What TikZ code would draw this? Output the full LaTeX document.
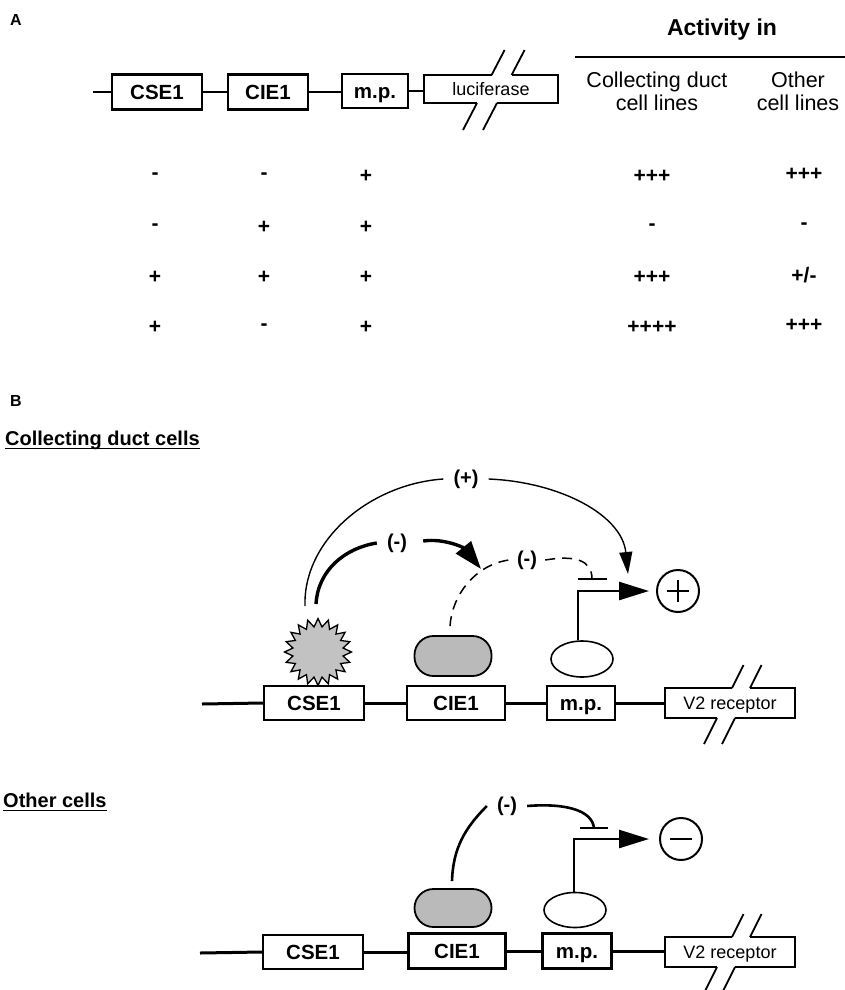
\documentclass[tikz,border=0pt]{standalone}
\usepackage{fontspec}
\setmainfont{Liberation Sans}
\usetikzlibrary{shapes.geometric,arrows.meta,calc}
\begin{document}
\begin{tikzpicture}[x=1pt,y=-1pt,
  genebox/.style={draw,line width=2.2pt,fill=white,inner sep=0pt,minimum height=35pt,text height=14.5pt,text depth=0pt,font=\fontsize{20.5}{22}\selectfont\bfseries},
  brk/.style={inner sep=0pt,text height=13pt,text depth=0pt,font=\fontsize{18}{20}\selectfont},
  gline/.style={line width=2.6pt},
  outl/.style={line width=2.2pt},
  slash/.style={line width=1.8pt},
  sign/.style={font=\fontsize{21}{22}\selectfont\bfseries,inner sep=0pt},
  head/.style={font=\fontsize{21.5}{23}\selectfont,align=center,inner sep=0pt},
  lbl/.style={font=\fontsize{20}{22}\selectfont\bfseries,inner sep=10pt},
  title/.style={font=\fontsize{20}{22}\selectfont\bfseries,inner sep=0pt},
  prot/.style={draw,line width=1.8pt,fill=black!27,rounded corners=19pt,minimum width=77pt,minimum height=40pt,inner sep=0pt},
  mpel/.style={draw,ellipse,line width=1.6pt,fill=white,minimum width=62pt,minimum height=36pt,inner sep=0pt},
  sigcirc/.style={draw,circle,line width=2pt,minimum size=42pt,inner sep=0pt},
  thinarc/.style={line width=1.4pt},
  thickarc/.style={line width=3.4pt},
  dasharc/.style={line width=1.5pt,dash pattern=on 10pt off 7pt},
  inharc/.style={line width=2.6pt},
  prom/.style={line width=2.6pt,-{Triangle[length=30pt,width=18pt]}},
  bar/.style={line width=2.8pt}
]
\useasboundingbox (0,0) rectangle (845,990);

% ---------------- Panel A ----------------
\node[title,font=\fontsize{16}{18}\selectfont\bfseries] (la) at (16,20) {A};

\coordinate (startA) at (93,92);
\node[genebox,minimum width=90pt] (cseA) at (157,92) {CSE1};
\node[genebox,minimum width=80pt] (cieA) at (268,92) {CIE1};
\node[genebox,minimum width=66pt,minimum height=34pt] (mpA) at (375,91) {m.p.};
\node[brk,minimum width=134pt,minimum height=28pt] (luc) at (491,89) {luciferase};
\draw[gline] (startA) -- (cseA.west);
\draw[gline] (cseA.east) -- (cieA.west);
\draw[gline] (cieA.east) -- (cieA.east -| mpA.west);
\draw[gline] (mpA.east) -- (mpA.east -| luc.west);
% luciferase break box
\draw[outl] (477,103) -- (424,103) -- (424,75) -- (491.6,75);
\draw[outl] (511.6,75) -- (558,75) -- (558,103) -- (497,103);
\draw[slash] (491.6,75) -- (504.6,50);
\draw[slash] (511.6,75) -- (524.6,50);
\draw[slash] (477,103) -- (463,130);
\draw[slash] (497,103) -- (483,130);

% table header
\node[font=\fontsize{23}{25}\selectfont\bfseries,inner sep=0pt] (act) at (722,30) {Activity in};
\coordinate (ruleL) at (575,57);
\coordinate (ruleR) at (845,57);
\draw[line width=2.5pt] (ruleL) -- (ruleR);
\node[head] (hcd) at (657,91) {Collecting duct\\cell lines};
\node[head] (hot) at (798,91) {Other\\cell lines};

% table rows
\node[sign] (r1c1) at (155,176) {-};
\node[sign] (r1c2) at (264,176) {-};
\node[sign] (r1c3) at (366,176) {+};
\node[sign] (r1c4) at (652,176) {+++};
\node[sign] (r1c5) at (804,174) {+++};
\node[sign] (r2c1) at (155,227) {-};
\node[sign] (r2c2) at (264,227) {+};
\node[sign] (r2c3) at (366,227) {+};
\node[sign] (r2c4) at (652,227) {-};
\node[sign] (r2c5) at (804,226) {-};
\node[sign] (r3c1) at (155,277) {+};
\node[sign] (r3c2) at (264,277) {+};
\node[sign] (r3c3) at (366,277) {+};
\node[sign] (r3c4) at (652,277) {+++};
\node[sign] (r3c5) at (804,275) {+/-};
\node[sign] (r4c1) at (155,327) {+};
\node[sign] (r4c2) at (264,327) {-};
\node[sign] (r4c3) at (366,327) {+};
\node[sign] (r4c4) at (652,327) {++++};
\node[sign] (r4c5) at (804,325) {+++};

% ---------------- Panel B ----------------
\node[title,font=\fontsize{16}{18}\selectfont\bfseries] (lb) at (16,401) {B};

\node[title,anchor=base west] (cdc) at (5,445) {Collecting duct cells};
\draw[line width=1.6pt] ($(cdc.base west)+(0,3.5)$) -- ($(cdc.base east)+(0,3.5)$);

% gene row (middle)
\coordinate (startB) at (202,704);
\node[genebox,minimum width=100pt,minimum height=34pt] (cseB) at (314,703) {CSE1};
\node[genebox,minimum width=98pt,minimum height=34pt] (cieB) at (456,703) {CIE1};
\node[genebox,minimum width=68pt,minimum height=34pt] (mpB) at (581,703) {m.p.};
\node[brk,minimum width=130pt,minimum height=30pt] (v2B) at (730,703) {V2 receptor};
\draw[gline,line width=3pt] (startB) -- (cseB.west);
\draw[gline,line width=3pt] (cseB.east) -- (cieB.west);
\draw[gline,line width=3pt] (cieB.east) -- (mpB.west);
\draw[gline,line width=3pt] (mpB.east) -- (v2B.west);
\draw[outl] (717,718) -- (665,718) -- (665,688) -- (732,688);
\draw[outl] (750,688) -- (795,688) -- (795,718) -- (735,718);
\draw[slash] (732,688) -- (743.5,665);
\draw[slash] (750,688) -- (761.5,665);
\draw[slash] (717,718) -- (704,744);
\draw[slash] (735,718) -- (722,744);

% factors (middle)
\node[star,star points=20,star point ratio=1.32,draw,line width=1.3pt,fill=black!24,minimum size=67pt,inner sep=0pt] (starB) at (318,652) {};
\node[prot] (protB) at (453,656) {};
\node[mpel] (mpelB) at (582,659) {};
\node[sigcirc] (plusc) at (678,591) {};
\draw[line width=2pt] ($(plusc.center)+(-11,0)$) -- ($(plusc.center)+(11,0)$);
\draw[line width=2pt] ($(plusc.center)+(0,-11)$) -- ($(plusc.center)+(0,11)$);

% promoter arrow (middle)
\draw[prom,shorten >=7pt] ($(mpelB.north)+(-4,0)$) |- (plusc.west);
\coordinate (bar1) at (592,579);
\draw[bar] ($(bar1)+(-14,0)$) -- ($(bar1)+(15,0)$);

% (+) arc
\node[lbl] (plbl) at (466,479) {(+)};
\coordinate (pstart) at (305,606);
\coordinate (ptip) at (628,574);
\draw[thinarc] (pstart) .. controls (303,540) and (370,484) .. (plbl.west);
\draw[thinarc,-{Triangle[length=22pt,width=13pt]}] (plbl.east) .. controls (560,482) and (622,515) .. (ptip);

% thick (-) arc
\node[lbl] (mlbl1) at (397,543) {(-)};
\coordinate (mstart) at (316,604);
\coordinate (mtip) at (481,569);
\draw[thickarc] (mstart) .. controls (318,570) and (345,548) .. (mlbl1.west);
\draw[thickarc,-{Triangle[length=28pt,width=19pt]}] ($(mlbl1.east)+(6,-2)$) .. controls (445,538) and (464,548) .. (mtip);

% dashed (-) arc
\node[lbl,inner sep=8pt] (mlbl2) at (527,560) {(-)};
\draw[dasharc] ($(protB.north)+(-3,-9)$) .. controls (452,595) and (475,565) .. (mlbl2.west);
\draw[dasharc] (mlbl2.east) .. controls (575,555) and (592,560) .. (bar1);

% ---------------- Other cells ----------------
\node[title,anchor=base west] (oc) at (3,807) {Other cells};
\draw[line width=1.6pt] ($(oc.base west)+(0,3.5)$) -- ($(oc.base east)+(0,3.5)$);

\coordinate (startC) at (200,953);
\node[genebox,minimum width=100pt,minimum height=34pt] (cseC) at (313,952) {CSE1};
\node[genebox,minimum width=97pt,minimum height=35pt] (cieC) at (457,951) {CIE1};
\node[genebox,minimum width=69pt,minimum height=35pt] (mpC) at (577,951) {m.p.};
\node[brk,minimum width=130pt,minimum height=30pt] (v2C) at (730,952) {V2 receptor};
\draw[gline,line width=3pt] (startC) -- (cseC.west);
\draw[gline,line width=3pt] (cseC.east) -- (cseC.east -| cieC.west);
\draw[gline,line width=3pt] (cieC.east) -- (cieC.east -| mpC.west);
\draw[gline,line width=3pt] (mpC.east) -- (mpC.east -| v2C.west);
\draw[outl] (717,967) -- (665,967) -- (665,937) -- (732,937);
\draw[outl] (750,937) -- (795,937) -- (795,967) -- (735,967);
\draw[slash] (732,937) -- (743.5,914);
\draw[slash] (750,937) -- (761.5,914);
\draw[slash] (717,967) -- (704,993);
\draw[slash] (735,967) -- (722,993);

\node[prot,minimum height=38pt] (protC) at (453,908) {};
\node[mpel,minimum height=35pt] (mpelC) at (575,910) {};
\node[sigcirc] (minc) at (681,839) {};
\draw[line width=2pt] ($(minc.center)+(-11,0)$) -- ($(minc.center)+(11,0)$);

\draw[prom,shorten >=10pt] ($(mpelC.north)+(-1,0)$) |- (minc.west);
\coordinate (bar2) at (594,828);
\draw[bar] ($(bar2)+(-14,0)$) -- ($(bar2)+(14,0)$);

\node[lbl] (mlbl3) at (507,806) {(-)};
\draw[inharc] ($(protC.north)+(-1,-7)$) .. controls (453,848) and (465,828) .. (mlbl3.west);
\draw[inharc] (mlbl3.east) .. controls (565,803) and (592,810) .. (bar2);
\end{tikzpicture}
\end{document}
